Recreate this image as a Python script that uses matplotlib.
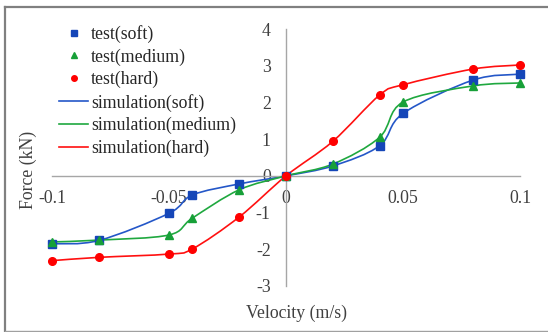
import matplotlib
matplotlib.use('Agg')
import matplotlib.pyplot as plt
from matplotlib.path import Path
from matplotlib.patches import PathPatch
from matplotlib.lines import Line2D
import numpy as np

plt.rcParams['font.family'] = 'Liberation Serif'

velocity = [-0.1, -0.08, -0.05, -0.04, -0.02, 0.0, 0.02, 0.04, 0.05, 0.08, 0.1]
force_soft = [-1.85, -1.76, -1.02, -0.52, -0.22, 0.0, 0.27, 0.82, 1.70, 2.61, 2.77]
force_medium = [-1.80, -1.75, -1.61, -1.15, -0.38, 0.0, 0.32, 1.05, 2.01, 2.45, 2.53]
force_hard = [-2.31, -2.22, -2.13, -1.99, -1.12, 0.0, 0.94, 2.20, 2.48, 2.91, 3.02]

colors = {'soft': '#1546b8', 'medium': '#17a038', 'hard': '#ff0000'}
line_colors = {'soft': '#2457c8', 'medium': '#1fa83f', 'hard': '#ff1010'}
markers = {'soft': 's', 'medium': '^', 'hard': 'o'}


def smooth_path(x, y):
    # excel style smoothed line: cubic bezier, catmull-rom tangents
    pts = np.column_stack([x, y])
    n = len(pts)
    verts = [pts[0]]
    codes = [Path.MOVETO]
    for i in range(n - 1):
        p0 = pts[max(i - 1, 0)]
        p1 = pts[i]
        p2 = pts[i + 1]
        p3 = pts[min(i + 2, n - 1)]
        verts += [p1 + (p2 - p0) / 6, p2 - (p3 - p1) / 6, p2]
        codes += [Path.CURVE4] * 3
    return Path(verts, codes)


fs = 12.8
fig = plt.figure(figsize=(5.48, 3.32), dpi=100)
ax = fig.add_axes([52 / 548, 46 / 332, 468 / 548, 257 / 332])

ax.set_xlim(-0.1, 0.1)
ax.set_ylim(-3, 4)
ax.set_xticks([-0.1, -0.05, 0, 0.05, 0.1])
ax.set_xticklabels(['-0.1', '-0.05', '0', '0.05', '0.1'])
ax.set_yticks([-3, -2, -1, 0, 1, 2, 3, 4])
ax.set_yticklabels(['-3', '-2', '-1', '0', '1', '2', '3', '4'])

for s in ['top', 'right']:
    ax.spines[s].set_visible(False)
ax.spines['left'].set_position(('data', 0))
ax.spines['bottom'].set_position(('data', 0))
for s in ['left', 'bottom']:
    ax.spines[s].set_color('#a6a6a6')
    ax.spines[s].set_linewidth(1.0)
ax.tick_params(length=0, labelsize=fs, colors='#404040')
ax.tick_params(axis='x', pad=10.5)
ax.tick_params(axis='y', pad=11)

series = [('soft', force_soft), ('medium', force_medium), ('hard', force_hard)]
z = 2
for name, f in series:
    ax.add_patch(PathPatch(smooth_path(velocity, f), fill=False,
                           edgecolor=line_colors[name], lw=1.2, zorder=z))
    z += 1
for name, f in series:
    ax.plot(velocity, f, linestyle='none', marker=markers[name],
            color=colors[name], markersize=5.5, zorder=z, clip_on=False)
    z += 1

handles = []
labels = []
for name, f in series:
    handles.append(Line2D([], [], linestyle='none', marker=markers[name],
                          color=colors[name], markersize=4))
    labels.append('test(%s)' % name)
for name, f in series:
    handles.append(Line2D([], [], color=line_colors[name], lw=1.2))
    labels.append('simulation(%s)' % name)
leg = ax.legend(handles, labels, loc='upper left', bbox_to_anchor=(59 / 548, 1 - 25 / 332),
                bbox_transform=fig.transFigure, frameon=False, fontsize=fs,
                handlelength=1.65, handletextpad=0.15, labelspacing=0.3,
                borderpad=0, borderaxespad=0)
for t in leg.get_texts():
    t.set_color('#262626')

fig.text(297 / 548, 1 - 313 / 332, 'Velocity (m/s)', ha='center', va='center',
         fontsize=fs, color='#404040')
fig.text(28 / 548, 1 - 170 / 332, 'Force (kN)', ha='center', va='center',
         rotation=90, fontsize=fs, color='#404040')

# chart area border
fig.add_artist(Line2D([5 / 548, 5 / 548], [1 / 332, 325 / 332], color='#808080', lw=1.6))
fig.add_artist(Line2D([5 / 548, 1], [325 / 332, 325 / 332], color='#808080', lw=1.6))
fig.add_artist(Line2D([5 / 548, 1], [1.2 / 332, 1.2 / 332], color='#a0a0a0', lw=1.0))

fig.savefig('out.png', dpi=100)
